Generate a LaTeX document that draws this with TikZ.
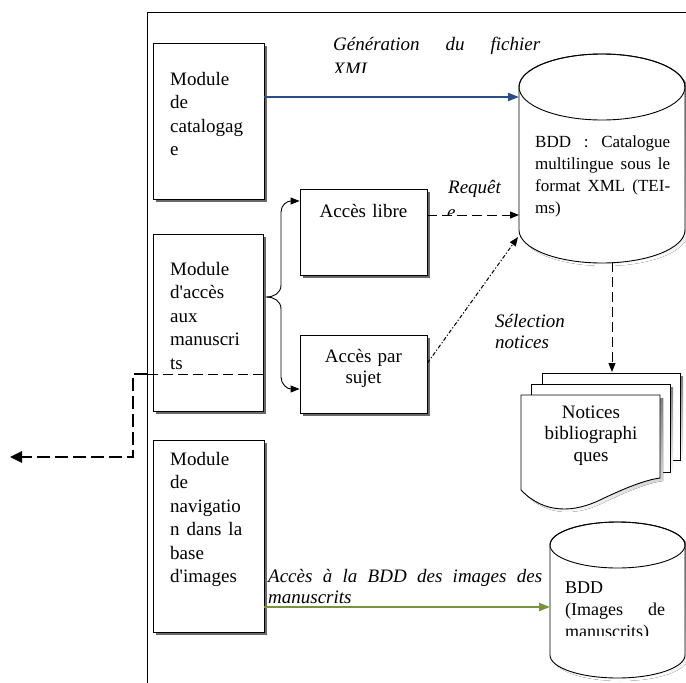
\documentclass[tikz,border=0pt]{standalone}
\usepackage{fontspec}
\setmainfont{Liberation Serif}
\usetikzlibrary{arrows.meta,shadows,calc}
\definecolor{linkblue}{RGB}{41,77,139}
\definecolor{linkgreen}{RGB}{119,147,60}
\definecolor{shade}{RGB}{105,105,105}
% a justified line: words separated by \hfill inside a box of fixed width
\newcommand\spreadline[2]{\leavevmode\hbox to #1{#2}}
\newcommand\gap{\hfill}
% database cylinder: centre x, top ellipse y, bottom ellipse y, x radius, y radius
\newcommand\dbcylinder[5]{%
  \fill[shade,shift={(3,3)}] ({#1-#4},#2) arc[start angle=180,end angle=0,x radius=#4pt,y radius=#5pt]
    -- ({#1+#4},#3) arc[start angle=0,end angle=-180,x radius=#4pt,y radius=#5pt] -- cycle;
  \draw[line width=0.9pt,fill=white] ({#1-#4},#2) arc[start angle=180,end angle=0,x radius=#4pt,y radius=#5pt]
    -- ({#1+#4},#3) arc[start angle=0,end angle=-180,x radius=#4pt,y radius=#5pt] -- cycle;
  \draw[line width=0.9pt] (#1,#2) ellipse[x radius=#4pt,y radius=#5pt];}
\begin{document}
\begin{tikzpicture}[x=1pt,y=-1pt,
  modbox/.style={draw,line width=0.9pt,fill=white,inner sep=0pt,
    drop shadow={shadow xshift=3pt,shadow yshift=-3pt,fill=shade,opacity=1}},
  txt/.style={font=\fontsize{19}{23.5}\selectfont,inner sep=0pt,align=left,anchor=base west,text width=100pt},
  ctxt/.style={font=\fontsize{19}{21.5}\selectfont,inner sep=0pt,align=center,anchor=base,text width=120pt},
  dbtxt/.style={font=\fontsize{17}{22}\selectfont,inner sep=0pt,align=left,anchor=base west,text width=140pt},
  lbl/.style={font=\fontsize{19}{21}\selectfont\itshape,inner sep=0pt,align=left,anchor=base west,text width=280pt},
  tip/.style={-{Triangle[length=9pt,width=7pt]}},
  dashline/.style={line width=1pt,dash pattern=on 10pt off 5pt},
  dashdotline/.style={line width=1pt,dash pattern=on 4pt off 2pt on 1.2pt off 2pt},
  exitline/.style={line width=2.6pt,dash pattern=on 13pt off 5pt},
]
\useasboundingbox (0,0) rectangle (686,683);

% outer frame
\draw[line width=0.9pt] (147,683) -- (147,12) -- (686,12);

% module boxes
\node[modbox,minimum width=111pt,minimum height=156pt] (cat) at (208.5,121) {};
\node[modbox,minimum width=110pt,minimum height=177pt] (acc) at (208,322.5) {};
\node[modbox,minimum width=111pt,minimum height=192pt] (nav) at (208.5,536) {};
\node[modbox,minimum width=127pt,minimum height=86pt] (libre) at (363.5,232) {};
\node[modbox,minimum width=127pt,minimum height=78pt] (sujet) at (363.5,374) {};

\node[txt] (catT) at (170,85) {Module\\de\\catalogag\\e};
\node[txt] (accT) at (170,275) {Module\\d\textquotesingle accès\\aux\\manuscri\\ts};
\node[txt] (navT) at (170,465) {Module\\de\\navigatio\\\spreadline{72pt}{n\gap dans\gap la}\\base\\d\textquotesingle images};
\node[ctxt] (libreT) at (363.5,217) {Accès libre};
\node[ctxt] (sujetT) at (363.5,362) {Accès par\\sujet};

% databases
\dbcylinder{602}{87}{230}{83}{33}
\dbcylinder{617.5}{545}{655}{67.5}{23}
\node[dbtxt] (db1T) at (535,147) {\spreadline{135pt}{BDD\gap:\gap Catalogue}\\
  \spreadline{135pt}{multilingue\gap sous\gap le}\\
  \spreadline{135pt}{format\gap XML\gap (TEI-}\\ms)};
\begin{scope}
  \clip (555,570) rectangle (680,635);
  \node[dbtxt,font=\fontsize{18}{22}\selectfont] (db2T) at (565,593) {BDD\\\spreadline{100pt}{(Images\gap de}\\manuscrits)};
\end{scope}
\coordinate (db1W) at (519,97);
\coordinate (db1Q) at (519,215);
\coordinate (db1C) at (518,237);
\coordinate (db1S) at (612,262);
\coordinate (db2W) at (550,607);

% stacked bibliographic notices
\fill[shade] (545,376) rectangle (683,463);
\draw[line width=0.9pt,fill=white] (542,373) rectangle (680,460);
\fill[shade] (534,387) rectangle (673,475);
\draw[line width=0.9pt,fill=white] (531,384) rectangle (670,472);
\fill[shade,shift={(3,3)}] (521,395) -- (660,395) -- (660,478)
  .. controls (645,480) and (625,488) .. (600,500)
  .. controls (575,512) and (545,515) .. (521,490) -- cycle;
\draw[line width=0.9pt,fill=white] (521,395) -- (660,395) -- (660,478)
  .. controls (645,480) and (625,488) .. (600,500)
  .. controls (575,512) and (545,515) .. (521,490) -- cycle;
\node[ctxt] (notT) at (591,418) {Notices\\bibliographi\\ques};
\coordinate (notN) at (612,372);

% labels
\begin{scope}
  \clip (320,20) rectangle (560,72);
  \node[lbl] (genL) at (333,50) {\spreadline{207pt}{Génération\gap du\gap fichier}\\[4pt]XMI};
\end{scope}
\node[lbl] (reqL) at (448,193) {Requêt};
\begin{scope}
  \clip (440,200) rectangle (470,214.5);
  \node[lbl] (reqL2) at (447,218) {e};
\end{scope}
\node[lbl] (selL) at (495,327) {Sélection\\notices};
\node[lbl] (imgL) at (268,582) {\spreadline{274pt}{Accès\gap à\gap la\gap BDD\gap des\gap images\gap des}\\manuscrits};

% connectors
\draw[linkblue,line width=2pt,-{Triangle[length=11pt,width=8pt]}] (cat.east |- db1W) -- (db1W);
\draw[linkgreen,line width=2pt,-{Triangle[length=11pt,width=8pt]}] (nav.east |- db2W) -- (db2W);
\draw[dashline,tip] (libre.east |- db1Q) -- (db1Q);
\draw[dashdotline,tip] ([yshift=11pt]sujet.east) -- (db1C);
\draw[dashline,tip] (db1S) -- (notN);

% brace from the access module to its two sub-modules
\coordinate (braceTip) at ($(acc.east)+(3,-25.5)$);
\draw[line width=0.9pt,tip] (braceTip) .. controls (274,297) and (281,293) .. (281,285)
  -- (281,212) .. controls (281,205) and (287,201) .. (libre.west |- 0,201);
\draw[line width=0.9pt,tip] (braceTip) .. controls (274,297) and (281,301) .. (281,309)
  -- (281,377) .. controls (281,384) and (287,389) .. (sujet.west |- 0,389);

% external link leaving the access module
\coordinate (exA) at (147,374);
\coordinate (exB) at (133,374);
\coordinate (exC) at (133,457);
\coordinate (exD) at (10,457);
\draw[dashline] (acc.east |- exA) -- (exA);
\draw[exitline,-{Triangle[length=12pt,width=11pt]}] (exA) -- (exB) -- (exC) -- (exD);
\end{tikzpicture}
\end{document}
